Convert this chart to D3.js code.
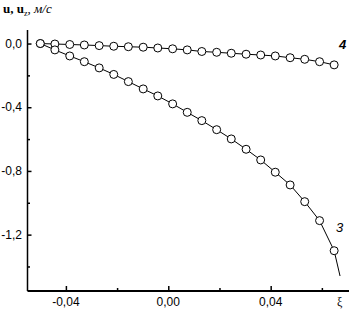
<!DOCTYPE html>
<html lang="ru">
<head>
  <meta charset="UTF-8">
  <title>u, uz</title>
  <style>
    body { margin: 0; background: #fff; }
    svg { display: block; }
  </style>
</head>
<body>
  <svg width="349" height="312" id="chart"></svg>
  <script src="https://d3js.org/d3.v7.min.js"></script>
  <script>
    // значения
    let xi = [-0.0500, -0.0443, -0.0385, -0.0328, -0.0270, -0.0213, -0.0156, -0.0098, -0.0041, 0.0017,
              0.0074, 0.0131, 0.0189, 0.0246, 0.0304, 0.0361, 0.0418, 0.0476, 0.0533, 0.0591, 0.0648];
    let curve3 = [0.000, -0.040, -0.078, -0.114, -0.153, -0.194, -0.239, -0.285, -0.329, -0.379,
                  -0.432, -0.484, -0.541, -0.599, -0.664, -0.731, -0.808, -0.888, -0.993, -1.112, -1.301];
    let curve4 = [0.000, -0.003, -0.006, -0.009, -0.013, -0.017, -0.020, -0.023, -0.028, -0.033,
                  -0.040, -0.050, -0.055, -0.061, -0.067, -0.072, -0.078, -0.089, -0.099, -0.114, -0.134];
    // хвост кривой 3 за последним маркером
    let tail3 = [0.0671, -1.46];

    let xMajor = [-0.04, 0.00, 0.04];
    let xMinor = [-0.02, 0.02, 0.06];
    let yMajor = [0.0, -0.4, -0.8, -1.2];
    let yMinor = [-0.2, -0.6, -1.0, -1.4];

    let svg = d3.select('#chart');
    let x = d3.scaleLinear().domain([-0.055, 0.0706]).range([27.5, 349]);
    let y = d3.scaleLinear().domain([0.085, -1.554]).range([30, 291]);
    let fmt = d => d3.format('.2f')(d).replace('.', ',').replace('−', '-');
    let fmtY = d => d3.format('.1f')(d).replace('.', ',').replace('−', '-');

    // оси
    let xAxis = svg.append('g').attr('transform', 'translate(0,291)')
        .call(d3.axisTop(x).tickValues(xMajor).tickSize(5).tickFormat(''));
    xAxis.select('.domain').attr('d', 'M27.5,0H349').attr('stroke-width', 2);
    svg.append('g').attr('transform', 'translate(0,291)')
        .call(d3.axisTop(x).tickValues(xMinor).tickSize(3).tickFormat(''))
        .select('.domain').remove();
    svg.append('g').selectAll('text').data(xMajor).join('text')
        .attr('x', d => x(d)).attr('y', 306)
        .attr('text-anchor', 'middle')
        .attr('font-family', 'Arial, "Liberation Sans", sans-serif')
        .attr('font-size', 12)
        .text(fmt);

    let yAxis = svg.append('g').attr('transform', 'translate(27.5,0)')
        .call(d3.axisRight(y).tickValues(yMajor).tickSize(4).tickFormat(''));
    yAxis.select('.domain').attr('d', 'M0,30V291').attr('stroke-width', 1.5);
    svg.append('g').attr('transform', 'translate(27.5,0)')
        .call(d3.axisRight(y).tickValues(yMinor).tickSize(2.5).tickFormat(''))
        .select('.domain').remove();
    svg.append('g').selectAll('text').data(yMajor).join('text')
        .attr('x', 22).attr('y', d => y(d) + 4)
        .attr('text-anchor', 'end')
        .attr('font-family', 'Arial, "Liberation Sans", sans-serif')
        .attr('font-size', 12)
        .text(fmtY);

    svg.selectAll('.tick line').attr('stroke', '#000').attr('stroke-width', 1.5);

    // кривые
    let pts3 = xi.map((d, i) => [d, curve3[i]]);
    let pts4 = xi.map((d, i) => [d, curve4[i]]);
    let line = d3.line().x(d => x(d[0])).y(d => y(d[1]));

    svg.append('path').datum(pts3.concat([tail3]))
        .attr('d', line).attr('fill', 'none').attr('stroke', '#000').attr('stroke-width', 1);
    svg.append('path').datum(pts4)
        .attr('d', line).attr('fill', 'none').attr('stroke', '#000').attr('stroke-width', 1);

    [pts4, pts3].forEach(pts => {
      svg.append('g').selectAll('circle').data(pts).join('circle')
          .attr('cx', d => x(d[0])).attr('cy', d => y(d[1]))
          .attr('r', 4)
          .attr('fill', '#fff')
          .attr('stroke', '#000')
          .attr('stroke-width', 1);
    });

    // подписи кривых
    svg.append('text').attr('x', 339).attr('y', y(-0.035))
        .attr('font-family', 'Arial, sans-serif').attr('font-size', 13)
        .attr('font-weight', 'bold').attr('font-style', 'italic').text('4');
    svg.append('text').attr('x', x(0.0655)).attr('y', y(-1.185))
        .attr('font-family', 'Arial, sans-serif').attr('font-size', 13)
        .attr('font-style', 'italic').text('3');

    // подписи осей
    let yl = svg.append('text').attr('x', 3).attr('y', 13)
        .attr('font-family', '"Liberation Serif", "Times New Roman", serif')
        .attr('font-size', 13);
    yl.append('tspan').attr('font-weight', 'bold').text('u, u');
    yl.append('tspan').attr('font-size', 8).attr('dy', 3).text('z');
    yl.append('tspan').attr('dy', -3).text(', ');
    yl.append('tspan').attr('font-style', 'italic').text('м/с');

    svg.append('text').attr('x', 337).attr('y', 306)
        .attr('font-family', '"Liberation Serif", "Times New Roman", serif')
        .attr('font-size', 12).text('ξ');
  </script>
</body>
</html>
